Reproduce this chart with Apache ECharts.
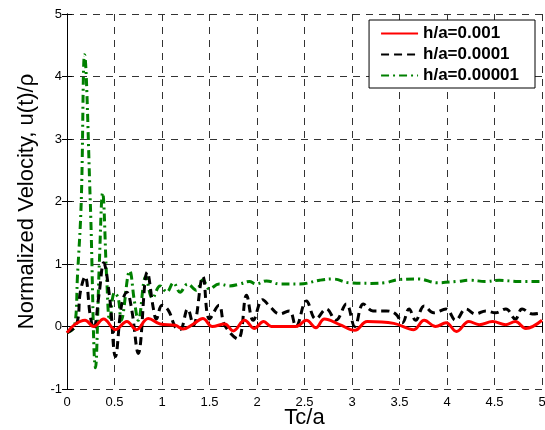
<!DOCTYPE html>
<html><head><meta charset="utf-8">
<script src="https://cdn.jsdelivr.net/npm/echarts@6/dist/echarts.min.js"></script>
<style>html,body{margin:0;padding:0;background:#fff}#c{width:545px;height:430px}</style>
</head><body><div id="c"></div>
<script>
var seriesNames = ["h/a=0.001", "h/a=0.0001", "h/a=0.00001"];
var xTicks = [0, 0.5, 1, 1.5, 2, 2.5, 3, 3.5, 4, 4.5, 5];
var yTicks = [-1, 0, 1, 2, 3, 4, 5];

var redX = [0, 0.08, 0.19, 0.28, 0.385, 0.51, 0.63, 0.73, 0.855, 0.98, 1.14, 1.22, 1.33, 1.43, 1.53, 1.66, 1.75, 1.87, 1.97, 2.07, 2.15, 2.41, 2.52, 2.62, 2.71, 2.87, 3.03, 3.16, 3.44, 3.65, 3.76, 3.88, 3.99, 4.1, 4.23, 4.34, 4.48, 4.62, 4.72, 4.83, 5.0];
var redY = [-0.1, 0.03, 0.1, 0.0, 0.12, -0.05, 0.08, -0.05, 0.13, 0.04, 0.02, -0.04, 0.04, 0.13, 0.0, 0.04, -0.07, 0.1, -0.03, 0.08, 0.0, 0.0, 0.1, -0.02, 0.12, 0.03, -0.06, 0.08, 0.05, -0.05, 0.1, 0.0, 0.06, -0.08, 0.08, 0.03, 0.08, 0.03, 0.08, -0.03, 0.1];

var blackX = [0, 0.1, 0.14, 0.19, 0.245, 0.28, 0.34, 0.385, 0.45, 0.51, 0.575, 0.63, 0.68, 0.75, 0.845, 0.91, 0.94, 1.0, 1.07, 1.14, 1.19, 1.27, 1.33, 1.43, 1.5, 1.6, 1.66, 1.8, 1.89, 1.96, 2.06, 2.13, 2.24, 2.34, 2.41, 2.52, 2.62, 2.73, 2.83, 2.94, 3.03, 3.12, 3.22, 3.36, 3.46, 3.53, 3.6, 3.67, 3.76, 3.86, 3.99, 4.09, 4.2, 4.3, 4.41, 4.51, 4.62, 4.72, 4.79, 4.9, 5.0];
var blackY = [-0.1, 0.03, 0.55, 0.8, 0.17, -0.04, 0.55, 1.02, 0.45, -0.48, 0.35, 0.55, 0.28, -0.43, 0.87, 0.28, 0.12, 0.34, 0.25, -0.01, -0.05, 0.28, 0.02, 0.8, 0.12, 0.34, 0.02, -0.2, 0.5, 0.1, 0.43, 0.33, 0.2, 0.25, 0.0, 0.41, 0.12, 0.28, 0.1, 0.36, 0.0, 0.36, 0.25, 0.25, 0.2, 0.06, 0.28, 0.1, 0.33, 0.22, 0.28, 0.1, 0.28, 0.2, 0.25, 0.22, 0.28, 0.12, 0.28, 0.2, 0.22];

var greenX = [0, 0.08, 0.11, 0.15, 0.185, 0.245, 0.30, 0.34, 0.375, 0.42, 0.45, 0.50, 0.54, 0.57, 0.66, 0.71, 0.75, 0.83, 0.90, 0.98, 1.05, 1.12, 1.19, 1.27, 1.36, 1.43, 1.50, 1.60, 1.71, 1.82, 1.92, 1.99, 2.1, 2.24, 2.45, 2.66, 2.8, 2.97, 3.2, 3.35, 3.49, 3.7, 3.9, 4.1, 4.25, 4.4, 4.55, 4.75, 5.0];
var greenY = [-0.1, 0, 0.8, 2.0, 4.35, 2.0, -0.66, 1.0, 2.14, 0.7, 0.1, 0.54, 0.45, 0.1, 0.89, 0.4, 0.1, 0.8, 0.45, 0.65, 0.55, 0.7, 0.55, 0.68, 0.58, 0.75, 0.6, 0.68, 0.65, 0.68, 0.72, 0.68, 0.73, 0.68, 0.68, 0.74, 0.76, 0.7, 0.69, 0.7, 0.75, 0.76, 0.7, 0.72, 0.74, 0.72, 0.74, 0.72, 0.72];

function pairs(xs, ys) { return xs.map(function (x, i) { return [x, ys[i]]; }); }

var FONT = "Liberation Sans, Arial, sans-serif";
var chart = echarts.init(document.getElementById('c'), null, {renderer: 'canvas'});
var gridLine = {show: true, lineStyle: {color: '#333', type: [7, 6], width: 1}};
chart.setOption({
  animation: false,
  backgroundColor: '#fff',
  grid: {left: 67, right: 3, top: 14, bottom: 41, containLabel: false, outerBoundsMode: 'none'},
  legend: {
    data: seriesNames,
    orient: 'vertical', right: 10, top: 20,
    backgroundColor: '#fff', borderColor: '#000', borderWidth: 1,
    padding: [5, 16, 4, 11], itemGap: 4, itemWidth: 37, itemHeight: 16,
    itemStyle: {opacity: 0},
    textStyle: {fontFamily: FONT, fontSize: 17, fontWeight: 'bold', color: '#000'}
  },
  xAxis: [{
    type: 'value', min: 0, max: 5, interval: 0.5,
    name: 'Tc/a', nameLocation: 'middle', nameGap: 18, nameMoveOverlap: false,
    nameTextStyle: {fontFamily: FONT, fontSize: 22, color: '#000'},
    axisLine: {show: true, lineStyle: {color: '#000', width: 1}},
    axisTick: {show: true, inside: true, length: 5, lineStyle: {color: '#000'}},
    axisLabel: {fontFamily: FONT, fontSize: 13, color: '#000', margin: 7,
      formatter: function (v) { return String(v); }},
    splitLine: gridLine
  }, {
    type: 'value', min: 0, max: 5, interval: 0.5, position: 'top',
    axisLine: {show: true, lineStyle: {color: '#000', width: 1}},
    axisTick: {show: true, inside: true, length: 5, lineStyle: {color: '#000'}},
    axisLabel: {show: false}, splitLine: {show: false}
  }],
  yAxis: [{
    type: 'value', min: -1, max: 5, interval: 1,
    name: 'Normalized Velocity, u(t)/\u03c1', nameLocation: 'middle', nameGap: 29,
    nameTextStyle: {fontFamily: FONT, fontSize: 22, color: '#000'},
    axisLine: {show: true, lineStyle: {color: '#000', width: 1}},
    axisTick: {show: true, inside: true, length: 5, lineStyle: {color: '#000'}},
    axisLabel: {fontFamily: FONT, fontSize: 13, color: '#000', margin: 5},
    splitLine: gridLine
  }, {
    type: 'value', min: -1, max: 5, interval: 1, position: 'right',
    axisLine: {show: true, lineStyle: {color: '#000', width: 1}},
    axisTick: {show: true, inside: true, length: 5, lineStyle: {color: '#000'}},
    axisLabel: {show: false}, splitLine: {show: false}
  }],
  series: [{
    name: seriesNames[0], type: 'line', data: pairs(redX, redY),
    showSymbol: false, symbol: 'none', smooth: 0.4, z: 4,
    lineStyle: {color: '#ff0000', width: 3, type: 'solid'}, itemStyle: {color: '#ff0000'}
  }, {
    name: seriesNames[1], type: 'line', data: pairs(blackX, blackY),
    showSymbol: false, symbol: 'none', smooth: 0.4, z: 3,
    lineStyle: {color: '#000', width: 3, type: [8, 5]}, itemStyle: {color: '#000'}
  }, {
    name: seriesNames[2], type: 'line', data: pairs(greenX, greenY),
    showSymbol: false, symbol: 'none', smooth: 0.4, z: 2,
    lineStyle: {color: '#008000', width: 3, type: [8, 4, 2, 4]}, itemStyle: {color: '#008000'}
  }]
});
</script></body></html>
